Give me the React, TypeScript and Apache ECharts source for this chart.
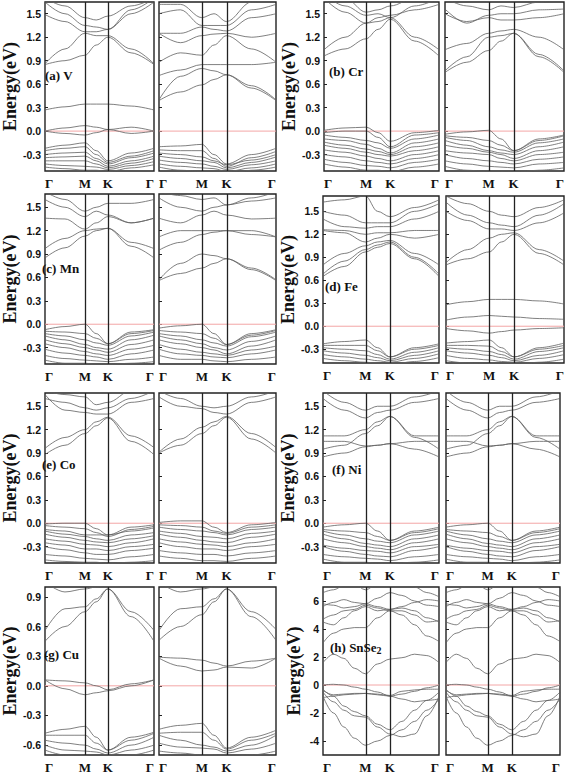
import React, { useEffect, useRef } from 'react';
import * as echarts from 'echarts';

// High-symmetry path Γ–M–K–Γ (fractional path length)
const kPath = [0, 0.366, 0.577, 1];
const kLabels = ['Γ', 'M', 'K', 'Γ'];
const knots = [0, 0.183, 0.366, 0.47, 0.577, 0.79, 1];
const knotsSnSe2 = [0, 0.09, 0.18, 0.27, 0.366, 0.47, 0.577, 0.68, 0.79, 0.895, 1];
const fermiLevel = 0;

const ticksMetal = [-0.3, 0, 0.3, 0.6, 0.9, 1.2, 1.5];
const ticksCu = [-0.6, -0.3, 0, 0.3, 0.6, 0.9];
const ticksSnSe2 = [-4, -2, 0, 2, 4, 6];

// (a) V
const vUp = [
  [-0.22, -0.18, -0.15, -0.25, -0.38, -0.28, -0.22],
  [-0.25, -0.22, -0.2, -0.3, -0.4, -0.32, -0.25],
  [-0.3, -0.28, -0.27, -0.35, -0.42, -0.34, -0.28],
  [-0.34, -0.33, -0.32, -0.38, -0.45, -0.38, -0.32],
  [-0.38, -0.38, -0.38, -0.42, -0.47, -0.41, -0.35],
  [-0.42, -0.44, -0.45, -0.46, -0.49, -0.44, -0.39],
  [-0.46, -0.48, -0.5, -0.5, -0.52, -0.47, -0.43],
  [0.0, 0.04, 0.07, 0.05, 0.02, 0.05, 0.0],
  [0.0, -0.03, -0.05, -0.02, 0.02, -0.03, 0.0],
  [0.27, 0.31, 0.345, 0.345, 0.345, 0.32, 0.27],
  [0.85, 0.9, 0.97, 1.1, 1.2, 1.0, 0.85],
  [0.86, 1.05, 1.25, 1.22, 1.22, 1.05, 0.86],
  [1.49, 1.4, 1.27, 1.27, 1.3, 1.5, 1.65],
  [1.65, 1.5, 1.35, 1.33, 1.3, 1.55, 1.7],
  [1.7, 1.6, 1.45, 1.42, 1.47, 1.6, 1.7],
];
const vDn = [
  [-0.2, -0.19, -0.17, -0.3, -0.42, -0.3, -0.22],
  [-0.24, -0.25, -0.25, -0.35, -0.45, -0.34, -0.26],
  [-0.28, -0.3, -0.33, -0.38, -0.43, -0.37, -0.3],
  [-0.32, -0.35, -0.38, -0.4, -0.47, -0.4, -0.33],
  [-0.37, -0.4, -0.42, -0.45, -0.49, -0.43, -0.38],
  [-0.42, -0.45, -0.47, -0.48, -0.52, -0.47, -0.42],
  [-0.46, -0.5, -0.52, -0.53, -0.55, -0.5, -0.46],
  [0.39, 0.5, 0.59, 0.66, 0.72, 0.55, 0.39],
  [0.4, 0.7, 0.8, 0.77, 0.72, 0.58, 0.4],
  [0.71, 0.78, 0.85, 0.85, 0.85, 0.85, 0.88],
  [0.88, 1.0, 0.97, 1.1, 1.22, 1.05, 0.88],
  [1.25, 1.13, 1.22, 1.24, 1.25, 1.2, 1.25],
  [1.25, 1.25, 1.33, 1.3, 1.28, 1.45, 1.5],
  [1.5, 1.55, 1.35, 1.35, 1.35, 1.55, 1.62],
  [1.62, 1.62, 1.45, 1.5, 1.4, 1.65, 1.7],
];

// (b) Cr
const crUp = [
  [0.01, 0.04, 0.05, -0.02, -0.13, -0.02, 0.01],
  [-0.02, 0.0, 0.0, -0.08, -0.2, -0.05, -0.02],
  [-0.05, -0.08, -0.12, -0.15, -0.22, -0.1, -0.05],
  [-0.1, -0.12, -0.17, -0.22, -0.28, -0.15, -0.1],
  [-0.14, -0.18, -0.23, -0.26, -0.3, -0.2, -0.15],
  [-0.18, -0.22, -0.27, -0.3, -0.32, -0.25, -0.2],
  [-0.24, -0.27, -0.32, -0.35, -0.38, -0.3, -0.25],
  [-0.3, -0.33, -0.38, -0.4, -0.42, -0.35, -0.3],
  [-0.36, -0.4, -0.44, -0.45, -0.47, -0.4, -0.36],
  [-0.42, -0.46, -0.5, -0.5, -0.52, -0.46, -0.42],
  [0.96, 1.05, 1.18, 1.3, 1.43, 1.15, 0.96],
  [1.04, 1.2, 1.38, 1.4, 1.45, 1.2, 1.04],
  [1.7, 1.52, 1.38, 1.45, 1.48, 1.55, 1.62],
  [1.75, 1.6, 1.48, 1.5, 1.45, 1.6, 1.7],
  [1.8, 1.7, 1.52, 1.55, 1.6, 1.7, 1.8],
];
const crDn = [
  [-0.04, -0.01, 0.01, -0.1, -0.25, -0.1, -0.05],
  [-0.06, -0.08, -0.12, -0.18, -0.25, -0.12, -0.06],
  [-0.08, -0.12, -0.2, -0.24, -0.27, -0.15, -0.1],
  [-0.12, -0.18, -0.25, -0.28, -0.3, -0.2, -0.14],
  [-0.18, -0.22, -0.27, -0.3, -0.35, -0.25, -0.2],
  [-0.25, -0.28, -0.3, -0.35, -0.38, -0.3, -0.27],
  [-0.3, -0.35, -0.38, -0.4, -0.42, -0.36, -0.33],
  [-0.38, -0.42, -0.45, -0.46, -0.47, -0.42, -0.4],
  [-0.45, -0.5, -0.52, -0.52, -0.53, -0.5, -0.47],
  [0.75, 0.88, 1.03, 1.15, 1.25, 0.95, 0.75],
  [0.77, 0.95, 1.2, 1.22, 1.25, 0.98, 0.77],
  [1.04, 1.12, 1.25, 1.28, 1.3, 1.2, 1.04],
  [1.5, 1.4, 1.45, 1.42, 1.42, 1.45, 1.5],
  [1.56, 1.38, 1.48, 1.5, 1.5, 1.55, 1.56],
  [1.7, 1.6, 1.55, 1.6, 1.58, 1.65, 1.7],
];

// (c) Mn
const mnUp = [
  [-0.07, -0.03, 0.0, -0.12, -0.25, -0.1, -0.07],
  [-0.09, -0.1, -0.12, -0.18, -0.25, -0.12, -0.08],
  [-0.12, -0.15, -0.2, -0.24, -0.27, -0.15, -0.1],
  [-0.15, -0.2, -0.26, -0.3, -0.32, -0.2, -0.14],
  [-0.2, -0.25, -0.3, -0.33, -0.36, -0.26, -0.2],
  [-0.25, -0.3, -0.35, -0.38, -0.4, -0.32, -0.27],
  [-0.32, -0.37, -0.4, -0.42, -0.45, -0.38, -0.33],
  [-0.4, -0.44, -0.46, -0.47, -0.48, -0.45, -0.42],
  [-0.46, -0.5, -0.5, -0.52, -0.52, -0.5, -0.48],
  [0.85, 0.98, 1.13, 1.2, 1.23, 1.0, 0.85],
  [0.97, 1.1, 1.2, 1.22, 1.23, 1.05, 0.97],
  [1.36, 1.35, 1.22, 1.3, 1.38, 1.3, 1.36],
  [1.6, 1.5, 1.38, 1.45, 1.4, 1.3, 1.36],
  [1.7, 1.6, 1.45, 1.5, 1.55, 1.55, 1.6],
];
const mnDn = [
  [-0.05, -0.02, 0.0, -0.12, -0.26, -0.12, -0.07],
  [-0.08, -0.1, -0.12, -0.18, -0.26, -0.14, -0.08],
  [-0.12, -0.15, -0.2, -0.24, -0.28, -0.16, -0.1],
  [-0.15, -0.2, -0.25, -0.3, -0.33, -0.22, -0.15],
  [-0.2, -0.25, -0.3, -0.33, -0.38, -0.28, -0.2],
  [-0.26, -0.32, -0.36, -0.38, -0.4, -0.33, -0.28],
  [-0.32, -0.38, -0.4, -0.42, -0.43, -0.38, -0.33],
  [-0.4, -0.45, -0.45, -0.47, -0.48, -0.45, -0.42],
  [0.56, 0.65, 0.72, 0.78, 0.84, 0.7, 0.56],
  [0.57, 0.78, 0.9, 0.88, 0.84, 0.72, 0.57],
  [0.95, 1.05, 1.15, 1.18, 1.2, 1.15, 1.12],
  [1.12, 1.2, 1.2, 1.2, 1.2, 1.2, 1.12],
  [1.36, 1.3, 1.4, 1.45, 1.4, 1.35, 1.36],
  [1.62, 1.5, 1.45, 1.5, 1.53, 1.58, 1.62],
  [1.7, 1.65, 1.6, 1.62, 1.53, 1.62, 1.7],
];

// (d) Fe
const feUp = [
  [-0.23, -0.2, -0.18, -0.28, -0.4, -0.28, -0.23],
  [-0.25, -0.25, -0.25, -0.32, -0.4, -0.3, -0.25],
  [-0.28, -0.3, -0.32, -0.37, -0.43, -0.34, -0.28],
  [-0.32, -0.35, -0.38, -0.41, -0.45, -0.38, -0.32],
  [-0.37, -0.4, -0.43, -0.45, -0.47, -0.42, -0.36],
  [-0.42, -0.45, -0.47, -0.48, -0.5, -0.46, -0.41],
  [0.65, 0.78, 0.97, 1.03, 1.08, 0.88, 0.65],
  [0.68, 0.85, 1.0, 1.06, 1.1, 0.9, 0.68],
  [0.8, 0.95, 1.05, 1.1, 1.12, 0.95, 0.8],
  [1.25, 1.22, 1.1, 1.15, 1.2, 1.15, 1.2],
  [1.26, 1.25, 1.2, 1.22, 1.22, 1.25, 1.25],
  [1.4, 1.3, 1.28, 1.3, 1.3, 1.4, 1.5],
  [1.5, 1.45, 1.35, 1.35, 1.35, 1.5, 1.6],
  [1.62, 1.65, 1.7, 1.5, 1.43, 1.55, 1.65],
];
const feDn = [
  [-0.22, -0.2, -0.18, -0.28, -0.4, -0.28, -0.22],
  [-0.25, -0.25, -0.26, -0.33, -0.4, -0.3, -0.25],
  [-0.28, -0.3, -0.33, -0.37, -0.43, -0.33, -0.28],
  [-0.32, -0.35, -0.38, -0.41, -0.45, -0.38, -0.32],
  [-0.38, -0.42, -0.44, -0.46, -0.47, -0.42, -0.37],
  [-0.45, -0.48, -0.5, -0.5, -0.5, -0.47, -0.43],
  [-0.03, -0.06, -0.09, -0.07, -0.05, -0.03, -0.02],
  [0.08, 0.12, 0.14, 0.13, 0.12, 0.1, 0.09],
  [0.28, 0.32, 0.35, 0.35, 0.35, 0.33, 0.29],
  [0.8, 0.88, 0.97, 1.1, 1.2, 0.95, 0.8],
  [0.83, 1.0, 1.15, 1.2, 1.22, 1.0, 0.85],
  [1.5, 1.38, 1.27, 1.27, 1.25, 1.35, 1.48],
  [1.62, 1.45, 1.35, 1.32, 1.3, 1.45, 1.6],
  [1.7, 1.6, 1.5, 1.45, 1.43, 1.55, 1.65],
];

// (e) Co
const coUp = [
  [-0.01, 0.0, 0.0, -0.07, -0.15, -0.05, -0.02],
  [-0.03, -0.05, -0.07, -0.12, -0.17, -0.08, -0.04],
  [-0.08, -0.1, -0.15, -0.15, -0.15, -0.1, -0.06],
  [-0.1, -0.14, -0.17, -0.2, -0.22, -0.15, -0.12],
  [-0.14, -0.18, -0.22, -0.24, -0.25, -0.2, -0.16],
  [-0.2, -0.23, -0.27, -0.28, -0.3, -0.25, -0.2],
  [-0.25, -0.28, -0.33, -0.33, -0.35, -0.3, -0.27],
  [-0.3, -0.34, -0.38, -0.4, -0.4, -0.35, -0.32],
  [-0.4, -0.42, -0.45, -0.46, -0.47, -0.43, -0.4],
  [-0.47, -0.49, -0.5, -0.5, -0.52, -0.5, -0.48],
  [0.88, 1.0, 1.15, 1.25, 1.35, 1.05, 0.88],
  [0.96, 1.1, 1.2, 1.3, 1.36, 1.12, 0.97],
  [1.65, 1.45, 1.42, 1.4, 1.4, 1.55, 1.6],
  [1.6, 1.55, 1.48, 1.45, 1.48, 1.6, 1.7],
  [1.7, 1.65, 1.62, 1.52, 1.55, 1.7, 1.75],
];
const coDn = [
  [0.01, 0.03, 0.03, -0.05, -0.12, -0.02, 0.01],
  [-0.02, -0.03, -0.05, -0.1, -0.13, -0.05, -0.02],
  [-0.05, -0.08, -0.1, -0.12, -0.15, -0.08, -0.05],
  [-0.1, -0.13, -0.17, -0.18, -0.2, -0.13, -0.1],
  [-0.14, -0.18, -0.22, -0.24, -0.25, -0.18, -0.14],
  [-0.2, -0.24, -0.27, -0.28, -0.3, -0.25, -0.2],
  [-0.25, -0.3, -0.33, -0.33, -0.35, -0.3, -0.27],
  [-0.35, -0.38, -0.4, -0.4, -0.42, -0.38, -0.35],
  [-0.42, -0.45, -0.48, -0.48, -0.49, -0.45, -0.42],
  [0.9, 1.0, 1.15, 1.25, 1.36, 1.08, 0.9],
  [0.91, 1.08, 1.23, 1.3, 1.37, 1.15, 0.97],
  [1.62, 1.5, 1.47, 1.42, 1.4, 1.55, 1.62],
  [1.7, 1.6, 1.5, 1.48, 1.5, 1.62, 1.7],
];

// (f) Ni (both spin channels nearly identical)
const niUp = [
  [-0.05, -0.02, 0.0, -0.1, -0.22, -0.1, -0.05],
  [-0.08, -0.1, -0.12, -0.17, -0.22, -0.12, -0.07],
  [-0.1, -0.15, -0.2, -0.23, -0.25, -0.15, -0.1],
  [-0.14, -0.2, -0.26, -0.28, -0.3, -0.2, -0.15],
  [-0.2, -0.25, -0.3, -0.32, -0.34, -0.25, -0.2],
  [-0.28, -0.32, -0.35, -0.36, -0.38, -0.3, -0.27],
  [-0.3, -0.36, -0.4, -0.42, -0.43, -0.35, -0.3],
  [-0.4, -0.43, -0.45, -0.46, -0.48, -0.43, -0.4],
  [-0.46, -0.5, -0.5, -0.52, -0.52, -0.5, -0.47],
  [0.85, 0.9, 0.98, 1.0, 1.02, 0.95, 0.85],
  [0.95, 1.0, 1.15, 1.25, 1.37, 1.1, 0.95],
  [1.05, 1.05, 0.99, 1.0, 1.02, 1.05, 1.05],
  [1.12, 1.12, 1.2, 1.3, 1.37, 1.12, 1.12],
  [1.6, 1.45, 1.35, 1.42, 1.45, 1.55, 1.6],
  [1.7, 1.55, 1.45, 1.5, 1.5, 1.62, 1.7],
];
const niDn = niUp;

// (g) Cu
const cuUp = [
  [-0.48, -0.44, -0.41, -0.52, -0.65, -0.52, -0.47],
  [-0.5, -0.5, -0.5, -0.58, -0.65, -0.55, -0.48],
  [-0.55, -0.58, -0.6, -0.64, -0.68, -0.6, -0.52],
  [-0.6, -0.65, -0.66, -0.67, -0.7, -0.65, -0.6],
  [-0.65, -0.7, -0.72, -0.72, -0.72, -0.7, -0.65],
  [0.06, 0.05, 0.03, 0.0, -0.04, 0.02, 0.06],
  [0.06, -0.03, -0.09, -0.07, -0.05, 0.0, 0.06],
  [0.45, 0.6, 0.75, 0.85, 0.98, 0.7, 0.45],
  [0.56, 0.78, 0.8, 0.88, 0.98, 0.75, 0.56],
  [1.05, 0.95, 0.98, 1.0, 1.02, 1.05, 1.1],
];
const cuDn = [
  [-0.44, -0.4, -0.38, -0.5, -0.63, -0.52, -0.45],
  [-0.48, -0.47, -0.47, -0.55, -0.64, -0.55, -0.48],
  [-0.5, -0.55, -0.6, -0.62, -0.66, -0.6, -0.5],
  [-0.58, -0.62, -0.63, -0.64, -0.68, -0.64, -0.58],
  [-0.66, -0.68, -0.7, -0.7, -0.72, -0.7, -0.66],
  [0.29, 0.28, 0.26, 0.23, 0.2, 0.25, 0.28],
  [0.28, 0.2, 0.15, 0.16, 0.19, 0.18, 0.28],
  [0.46, 0.6, 0.72, 0.85, 0.98, 0.7, 0.46],
  [0.56, 0.78, 0.8, 0.88, 0.98, 0.75, 0.57],
  [1.05, 0.95, 0.98, 1.0, 1.02, 1.05, 1.1],
];

// (h) SnSe2 (11 knots along the path)
const snse2Up = [
  [0.0, 0.05, 0.0, -0.15, -0.3, -0.5, -0.8, -0.65, -0.45, -0.2, 0.0],
  [-0.4, -0.7, -0.65, -0.6, -0.6, -0.65, -0.75, -0.45, -0.35, -0.3, -0.3],
  [-0.9, -0.8, -0.7, -0.65, -0.6, -0.7, -0.8, -1.0, -1.2, -1.1, -1.0],
  [-0.3, -0.8, -1.5, -1.9, -2.2, -2.8, -3.2, -2.6, -1.8, -1.1, -0.5],
  [-0.5, -1.2, -1.8, -2.2, -2.3, -3.0, -3.5, -3.7, -3.5, -2.2, -0.8],
  [-0.8, -2.0, -3.0, -3.8, -4.3, -4.0, -3.6, -3.2, -2.6, -1.8, -1.0],
  [1.6, 2.2, 1.9, 1.2, 0.8, 1.5, 1.85, 1.95, 2.2, 2.1, 1.6],
  [3.0, 3.7, 4.0, 4.1, 4.1, 4.8, 5.3, 5.0, 4.3, 3.5, 3.1],
  [4.5, 4.3, 4.8, 5.3, 5.6, 5.3, 5.4, 5.5, 5.3, 4.8, 4.5],
  [4.7, 5.0, 5.3, 5.4, 5.7, 5.5, 5.3, 5.3, 5.0, 4.5, 4.6],
  [5.6, 5.9, 6.1, 5.9, 5.8, 6.2, 6.6, 6.4, 6.0, 5.7, 5.6],
  [5.8, 5.7, 5.5, 5.6, 5.8, 5.6, 5.4, 5.6, 5.9, 6.1, 6.0],
  [6.6, 6.8, 7.1, 7.2, 6.8, 7.2, 7.5, 7.3, 7.0, 6.6, 6.3],
];
const snse2Dn = snse2Up;

const SERIF = '"Liberation Serif", "Times New Roman", serif';
const SANS = '"Liberation Sans", Arial, sans-serif';

type Panel = {
  label: string;
  bands: number[][][];
  xs: number[];
  yMin: number;
  yMax: number;
  ticks: number[];
  digits: number;
  rects: number[][];
  nameGap: number;
  labelPos: number[];
};

const panels: Panel[] = [
  { label: '(a) V', bands: [vUp, vDn], xs: knots, yMin: -0.51, yMax: 1.65, ticks: ticksMetal, digits: 1,
    rects: [[37, 2, 117, 169], [159, 2, 117, 169]], nameGap: 21, labelPos: [45, 76] },
  { label: '(b) Cr', bands: [crUp, crDn], xs: knots, yMin: -0.51, yMax: 1.65, ticks: ticksMetal, digits: 1,
    rects: [[324, 2, 115, 169], [445, 2, 120, 169]], nameGap: 26, labelPos: [329, 72] },
  { label: '(c) Mn', bands: [mnUp, mnDn], xs: knots, yMin: -0.51, yMax: 1.67, ticks: ticksMetal, digits: 1,
    rects: [[37, 194, 117, 170], [159, 194, 117, 170]], nameGap: 21, labelPos: [42, 269] },
  { label: '(d) Fe', bands: [feUp, feDn], xs: knots, yMin: -0.48, yMax: 1.7, ticks: ticksMetal, digits: 1,
    rects: [[323, 196, 116, 167], [446, 196, 119, 167]], nameGap: 25, labelPos: [325, 287] },
  { label: '(e) Co', bands: [coUp, coDn], xs: knots, yMin: -0.51, yMax: 1.67, ticks: ticksMetal, digits: 1,
    rects: [[37, 393, 117, 170], [159, 393, 117, 170]], nameGap: 21, labelPos: [42, 465] },
  { label: '(f) Ni', bands: [niUp, niDn], xs: knots, yMin: -0.51, yMax: 1.67, ticks: ticksMetal, digits: 1,
    rects: [[323, 393, 116, 170], [446, 393, 114, 170]], nameGap: 24, labelPos: [332, 470] },
  { label: '(g) Cu', bands: [cuUp, cuDn], xs: knots, yMin: -0.7, yMax: 1.0, ticks: ticksCu, digits: 1,
    rects: [[37, 587, 117, 169], [159, 587, 117, 169]], nameGap: 21, labelPos: [44, 655] },
  { label: '(h) SnSe{sub|2}', bands: [snse2Up, snse2Dn], xs: knotsSnSe2, yMin: -5, yMax: 7, ticks: ticksSnSe2, digits: 0,
    rects: [[323, 587, 116, 169], [446, 587, 114, 169]], nameGap: 20, labelPos: [330, 648] },
];

function buildOption() {
  const grid: any[] = [];
  const xAxis: any[] = [];
  const yAxis: any[] = [];
  const series: any[] = [];
  const graphic: any[] = [];

  panels.forEach((p, pi) => {
    p.rects.forEach((r, si) => {
      const gi = pi * 2 + si;
      grid.push({
        left: r[0], top: r[1], width: r[2], height: r[3],
        show: true, borderColor: '#222', borderWidth: 1.4, backgroundColor: '#fff',
      });
      xAxis.push({
        gridIndex: gi, type: 'value', min: 0, max: 1,
        axisLine: { show: false }, axisTick: { show: false }, splitLine: { show: false },
        axisLabel: {
          customValues: kPath,
          formatter: (v: number) => {
            let best = 0;
            kPath.forEach((k, i) => { if (Math.abs(k - v) < Math.abs(kPath[best] - v)) best = i; });
            return kLabels[best];
          },
          alignMinLabel: 'left', alignMaxLabel: 'right',
          fontFamily: SERIF, fontWeight: 'bold', fontSize: 13, color: '#111', margin: 6,
        },
      });
      yAxis.push({
        gridIndex: gi, type: 'value', min: p.yMin, max: p.yMax,
        axisLine: { show: false }, splitLine: { show: false },
        axisTick: { show: true, inside: true, length: 3, customValues: p.ticks, lineStyle: { color: '#222', width: 1 } },
        axisLabel: {
          show: si === 0, customValues: p.ticks,
          formatter: (v: number) => v.toFixed(p.digits),
          fontFamily: SANS, fontWeight: 'bold', fontSize: 10.5, color: '#111', margin: 4,
        },
        name: si === 0 ? 'Energy(eV)' : '',
        nameLocation: 'middle', nameGap: p.nameGap,
        nameTextStyle: { fontFamily: SERIF, fontWeight: 'bold', fontSize: 18, color: '#111' },
      });
      // Fermi level + high-symmetry vertical lines
      series.push({
        type: 'line', xAxisIndex: gi, yAxisIndex: gi,
        data: [[0, fermiLevel], [1, fermiLevel]],
        symbol: 'none', silent: true, z: 2,
        lineStyle: { color: '#f3a6a6', width: 1 },
        markLine: {
          symbol: 'none', silent: true, label: { show: false },
          lineStyle: { color: '#222', width: 1.3, type: 'solid' },
          data: [{ xAxis: kPath[1] }, { xAxis: kPath[2] }],
        },
      });
      p.bands[si].forEach((band) => {
        series.push({
          type: 'line', xAxisIndex: gi, yAxisIndex: gi,
          data: p.xs.map((x, k) => [x, band[k]]),
          smooth: 0.35, smoothMonotone: 'x', symbol: 'none', silent: true, z: 3,
          lineStyle: { color: '#5f5f5f', width: 0.8 },
        });
      });
    });
    graphic.push({
      type: 'text', left: p.labelPos[0], top: p.labelPos[1] - 7, z: 10,
      style: {
        text: p.label, fontFamily: SERIF, fontWeight: 'bold', fontSize: 13, fill: '#111',
        rich: { sub: { fontFamily: SERIF, fontWeight: 'bold', fontSize: 10, fill: '#111', padding: [6, 0, 0, 0] } },
      },
    });
  });

  return { animation: false, backgroundColor: '#fff', grid, xAxis, yAxis, series, graphic };
}

export default function App() {
  const ref = useRef<HTMLDivElement>(null);
  useEffect(() => {
    const chart = echarts.init(ref.current!, null, { renderer: 'svg' });
    chart.setOption(buildOption() as any);
    return () => chart.dispose();
  }, []);
  return (
    <div
      ref={ref}
      style={{ position: 'absolute', left: 0, top: 0, width: 567, height: 774, background: '#fff' }}
    />
  );
}
